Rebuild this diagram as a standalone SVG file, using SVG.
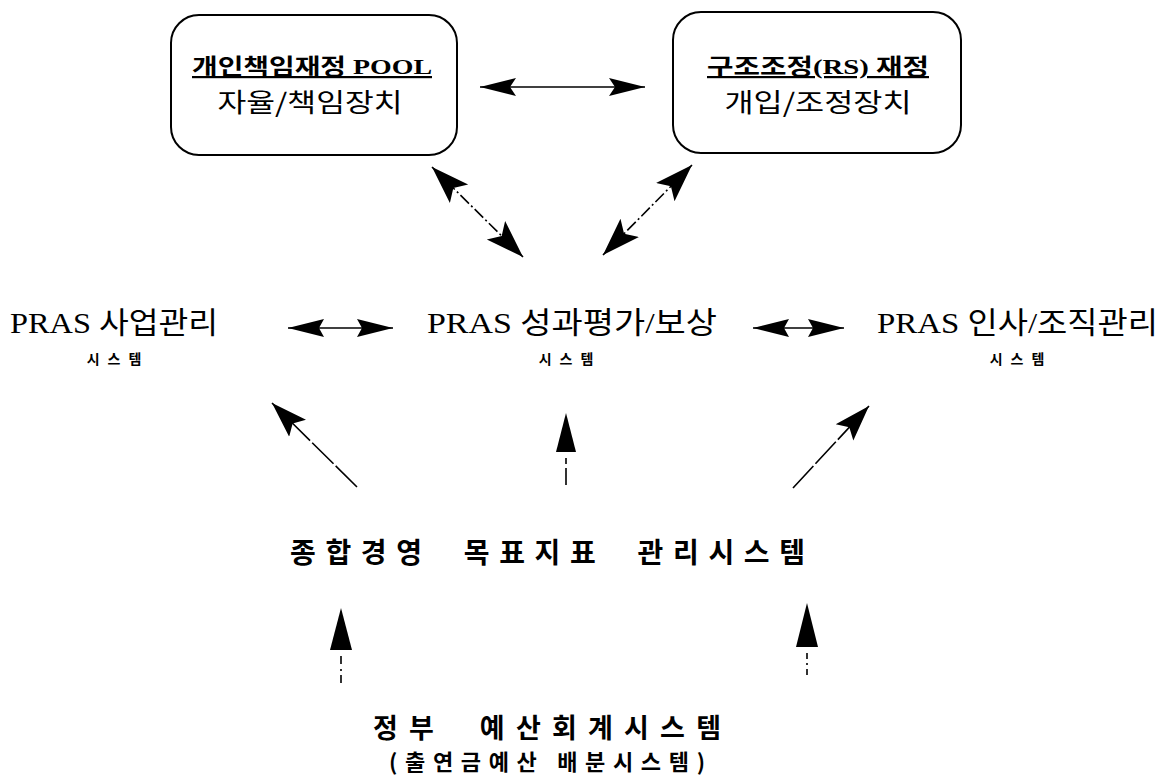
<svg xmlns="http://www.w3.org/2000/svg" width="1168" height="775" viewBox="0 0 1168 775">
<style>
.box{fill:#fff;stroke:#000;stroke-width:2}
.t1{font-family:"Liberation Serif","Noto Sans CJK KR",serif;font-size:22px;font-weight:700;fill:#000;text-decoration:underline}
.t2{font-family:"Noto Sans CJK KR",sans-serif;font-size:26px;fill:#000}
.pr{font-family:"Liberation Serif","Noto Sans CJK KR",serif;font-size:30px;fill:#000}
.sm{font-family:"Noto Sans CJK KR",sans-serif;font-size:14px;font-weight:700;fill:#000;letter-spacing:8px}
.bd{font-family:"Noto Sans CJK KR",sans-serif;font-weight:700;fill:#000;white-space:pre}
.ln{stroke:#000;stroke-width:1.6;fill:none}
.dd{stroke-dasharray:12 3 2 3}
.br{stroke-dasharray:30 3}
.hd{fill:#000;stroke:none}
</style>
<defs>
<marker id="big" markerUnits="userSpaceOnUse" viewBox="0 -14 38 28" refX="38" refY="0" markerWidth="38" markerHeight="28" orient="auto-start-reverse"><path d="M0,-13 L38,0 L0,13 L8,0 Z" fill="#000"/></marker>
<marker id="mid" markerUnits="userSpaceOnUse" viewBox="0 -10 36 20" refX="36" refY="0" markerWidth="36" markerHeight="20" orient="auto-start-reverse"><path d="M0,-9 L36,0 L0,9 L6,0 Z" fill="#000"/></marker>
<marker id="sml" markerUnits="userSpaceOnUse" viewBox="0 -10 36 20" refX="36" refY="0" markerWidth="36" markerHeight="20" orient="auto-start-reverse"><path d="M0,-9 L36,0 L0,9 L5,0 Z" fill="#000"/></marker>
<marker id="bd" markerUnits="userSpaceOnUse" viewBox="0 -13 36 26" refX="36" refY="0" markerWidth="36" markerHeight="26" orient="auto"><path d="M0,-12 L36,0 L0,12 L7,0 Z" fill="#000"/></marker>
</defs>
<rect width="1168" height="775" fill="#fff"/>

<g id="node-pool">
<rect class="box" x="171" y="15" width="286" height="140" rx="28"/>
<text class="t1" x="312" y="74" text-anchor="middle" textLength="240" lengthAdjust="spacingAndGlyphs">개인책임재정 POOL</text>
<text class="t2" x="310" y="112" text-anchor="middle" textLength="185" lengthAdjust="spacingAndGlyphs">자율/책임장치</text>
</g>
<g id="node-rs">
<rect class="box" x="673" y="12" width="288" height="141" rx="28"/>
<text class="t1" x="818" y="74" text-anchor="middle" textLength="222" lengthAdjust="spacingAndGlyphs">구조조정(RS) 재정</text>
<text class="t2" x="818" y="112" text-anchor="middle" textLength="187" lengthAdjust="spacingAndGlyphs">개입/조정장치</text>
</g>
<g id="node-biz">
<text class="pr" x="10" y="333" textLength="208" lengthAdjust="spacingAndGlyphs">PRAS 사업관리</text>
<text class="sm" x="118" y="364" text-anchor="middle">시스템</text>
</g>
<g id="node-eval">
<text class="pr" x="427" y="333" textLength="290" lengthAdjust="spacingAndGlyphs">PRAS 성과평가/보상</text>
<text class="sm" x="570" y="364" text-anchor="middle">시스템</text>
</g>
<g id="node-hr">
<text class="pr" x="877" y="333" textLength="281" lengthAdjust="spacingAndGlyphs">PRAS 인사/조직관리</text>
<text class="sm" x="1021" y="364" text-anchor="middle">시스템</text>
</g>
<g id="node-goal">
<text class="bd" x="290" y="563" font-size="28" textLength="515" lengthAdjust="spacing">종합경영  목표지표  관리시스템</text>
</g>
<g id="node-gov">
<text class="bd" x="373" y="738" font-size="27" textLength="348" lengthAdjust="spacing">정부  예산회계시스템</text>
<text class="bd" x="389" y="770" font-size="22" textLength="316" lengthAdjust="spacing">(출연금예산 배분시스템)</text>
</g>

<g id="connectors">
<line class="ln" x1="480" y1="87" x2="645" y2="87" marker-start="url(#mid)" marker-end="url(#mid)"/>
<line class="ln dd" x1="432" y1="167" x2="523" y2="257" marker-start="url(#big)" marker-end="url(#big)"/>
<line class="ln dd" x1="692" y1="165" x2="603" y2="255" marker-start="url(#big)" marker-end="url(#big)"/>
<line class="ln" x1="288" y1="328" x2="393" y2="328" marker-start="url(#sml)" marker-end="url(#sml)"/>
<line class="ln" x1="753" y1="328" x2="844" y2="328" marker-start="url(#sml)" marker-end="url(#sml)"/>
<line class="ln br" x1="357" y1="487" x2="272" y2="403" marker-end="url(#bd)"/>
<line class="ln br" x1="793" y1="488" x2="869" y2="406" marker-end="url(#bd)"/>
<path class="hd" d="M566,413 L576,452 L556,452 Z"/>
<line class="ln" x1="566" y1="458" x2="566" y2="485" stroke-dasharray="6 4 17 0"/>
<path class="hd" d="M341,608 L352,650 L330,650 Z"/>
<line class="ln" x1="341" y1="656" x2="341" y2="687" stroke-dasharray="8 5 2 4"/>
<path class="hd" d="M807,603 L818,647 L796,647 Z"/>
<line class="ln" x1="807" y1="653" x2="807" y2="678" stroke-dasharray="6 4 2 4"/>
</g>
</svg>
